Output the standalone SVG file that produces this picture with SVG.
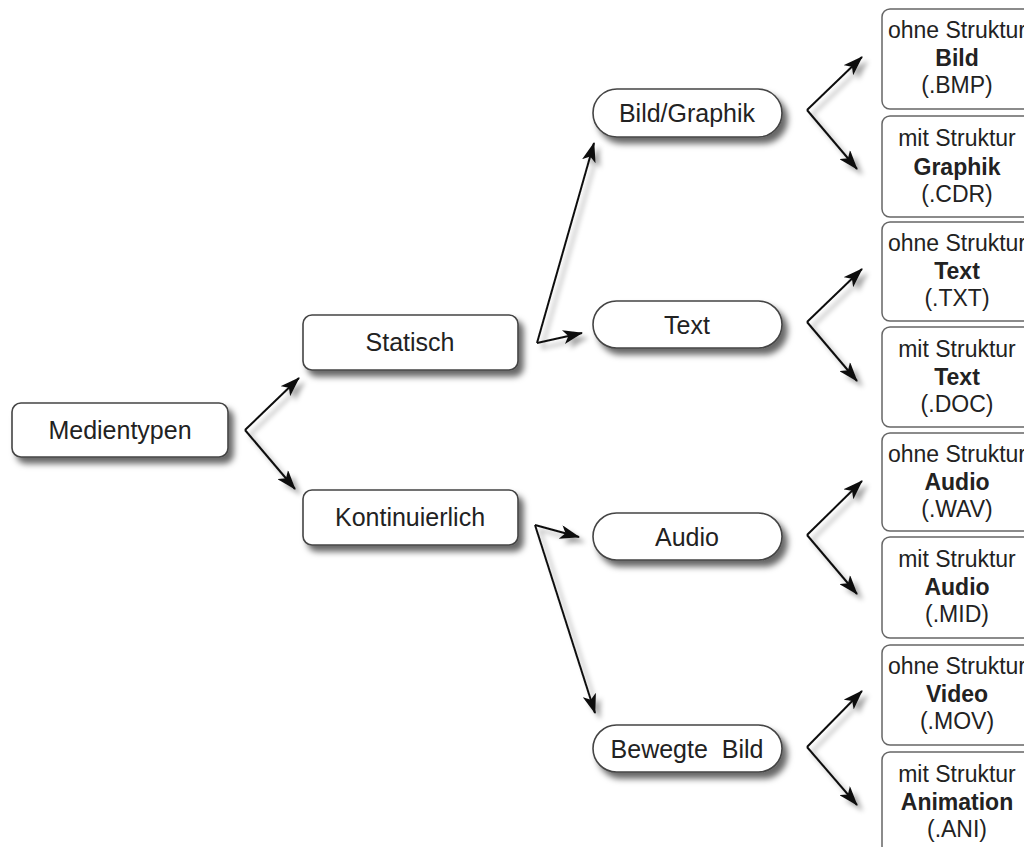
<svg xmlns="http://www.w3.org/2000/svg" width="1024" height="847" viewBox="0 0 1024 847">
<defs>
<filter id="sh" x="-20%" y="-30%" width="150%" height="180%">
<feDropShadow dx="5" dy="6" stdDeviation="3" flood-color="#000" flood-opacity="0.6"/>
</filter>
<filter id="ash" x="-30%" y="-30%" width="160%" height="160%">
<feDropShadow dx="5" dy="5" stdDeviation="2.5" flood-color="#000" flood-opacity="0.35"/>
</filter>
<marker id="ah" viewBox="0 0 20 14" refX="19" refY="7" markerWidth="20" markerHeight="14" markerUnits="userSpaceOnUse" orient="auto">
<path d="M0,0 L20,7 L0,14 L5,7 z" fill="#111"/>
</marker>
<style>
.node{fill:#fff;stroke:#444;stroke-width:1.6;filter:url(#sh)}
.leaf{fill:#fff;stroke:#666;stroke-width:1.5}
.t{font-family:"Liberation Sans",Arial,sans-serif;font-size:25px;fill:#222;text-anchor:middle;white-space:pre}
.s{font-family:"Liberation Sans",Arial,sans-serif;font-size:23px;fill:#222;text-anchor:middle}
.b{font-weight:bold}
.c{fill:none;stroke:#111;stroke-width:2;marker-end:url(#ah)}
</style>
</defs>
<rect width="1024" height="847" fill="#fff"/>
<g id="connectors" filter="url(#ash)">
<path class="c" d="M245,430 L299,378"/>
<path class="c" d="M245,430 L295,489"/>
<path class="c" d="M537,343 L594,143"/>
<path class="c" d="M537,343 L582,333"/>
<path class="c" d="M535,525 L579,537"/>
<path class="c" d="M535,525 L595,713"/>
<path class="c" d="M807,110 L862,57"/>
<path class="c" d="M807,110 L857,169"/>
<path class="c" d="M807,322 L862,269"/>
<path class="c" d="M807,322 L857,381"/>
<path class="c" d="M807,535 L862,481"/>
<path class="c" d="M807,535 L857,594"/>
<path class="c" d="M807,747 L862,691"/>
<path class="c" d="M807,747 L857,805"/>
</g>
<g id="n-medientypen"><rect class="node" x="12" y="403" width="216" height="54" rx="9"/><text class="t" x="120" y="439">Medientypen</text></g>
<g id="n-statisch"><rect class="node" x="303" y="315" width="215" height="55" rx="9"/><text class="t" x="410" y="351">Statisch</text></g>
<g id="n-kontinuierlich"><rect class="node" x="303" y="490" width="215" height="55" rx="9"/><text class="t" x="410" y="526">Kontinuierlich</text></g>
<g id="n-bild"><rect class="node" x="593" y="89" width="189" height="48" rx="24"/><text class="t" x="687" y="122">Bild/Graphik</text></g>
<g id="n-text"><rect class="node" x="593" y="301" width="189" height="47" rx="23.5"/><text class="t" x="687" y="334">Text</text></g>
<g id="n-audio"><rect class="node" x="593" y="513" width="189" height="47" rx="23.5"/><text class="t" x="687" y="546">Audio</text></g>
<g id="n-bewegt"><rect class="node" x="593" y="725" width="189" height="47" rx="23.5"/><text class="t" x="687" y="758">Bewegte  Bild</text></g>
<g id="l1"><rect class="leaf" x="882" y="9" width="150" height="100" rx="8"/><text class="s" x="957" y="38">ohne Struktur</text><text class="s b" x="957" y="66">Bild</text><text class="s" x="957" y="93">(.BMP)</text></g>
<g id="l2"><rect class="leaf" x="882" y="116" width="150" height="101" rx="8"/><text class="s" x="957" y="146">mit Struktur</text><text class="s b" x="957" y="175">Graphik</text><text class="s" x="957" y="202">(.CDR)</text></g>
<g id="l3"><rect class="leaf" x="882" y="222" width="150" height="99" rx="8"/><text class="s" x="957" y="251">ohne Struktur</text><text class="s b" x="957" y="279">Text</text><text class="s" x="957" y="306">(.TXT)</text></g>
<g id="l4"><rect class="leaf" x="882" y="327" width="150" height="100" rx="8"/><text class="s" x="957" y="357">mit Struktur</text><text class="s b" x="957" y="385">Text</text><text class="s" x="957" y="412">(.DOC)</text></g>
<g id="l5"><rect class="leaf" x="882" y="433" width="150" height="98" rx="8"/><text class="s" x="957" y="462">ohne Struktur</text><text class="s b" x="957" y="490">Audio</text><text class="s" x="957" y="517">(.WAV)</text></g>
<g id="l6"><rect class="leaf" x="882" y="537" width="150" height="101" rx="8"/><text class="s" x="957" y="567">mit Struktur</text><text class="s b" x="957" y="595">Audio</text><text class="s" x="957" y="622">(.MID)</text></g>
<g id="l7"><rect class="leaf" x="882" y="645" width="150" height="100" rx="8"/><text class="s" x="957" y="674">ohne Struktur</text><text class="s b" x="957" y="702">Video</text><text class="s" x="957" y="729">(.MOV)</text></g>
<g id="l8"><rect class="leaf" x="882" y="752" width="150" height="102" rx="8"/><text class="s" x="957" y="782">mit Struktur</text><text class="s b" x="957" y="810">Animation</text><text class="s" x="957" y="837">(.ANI)</text></g>
</svg>
